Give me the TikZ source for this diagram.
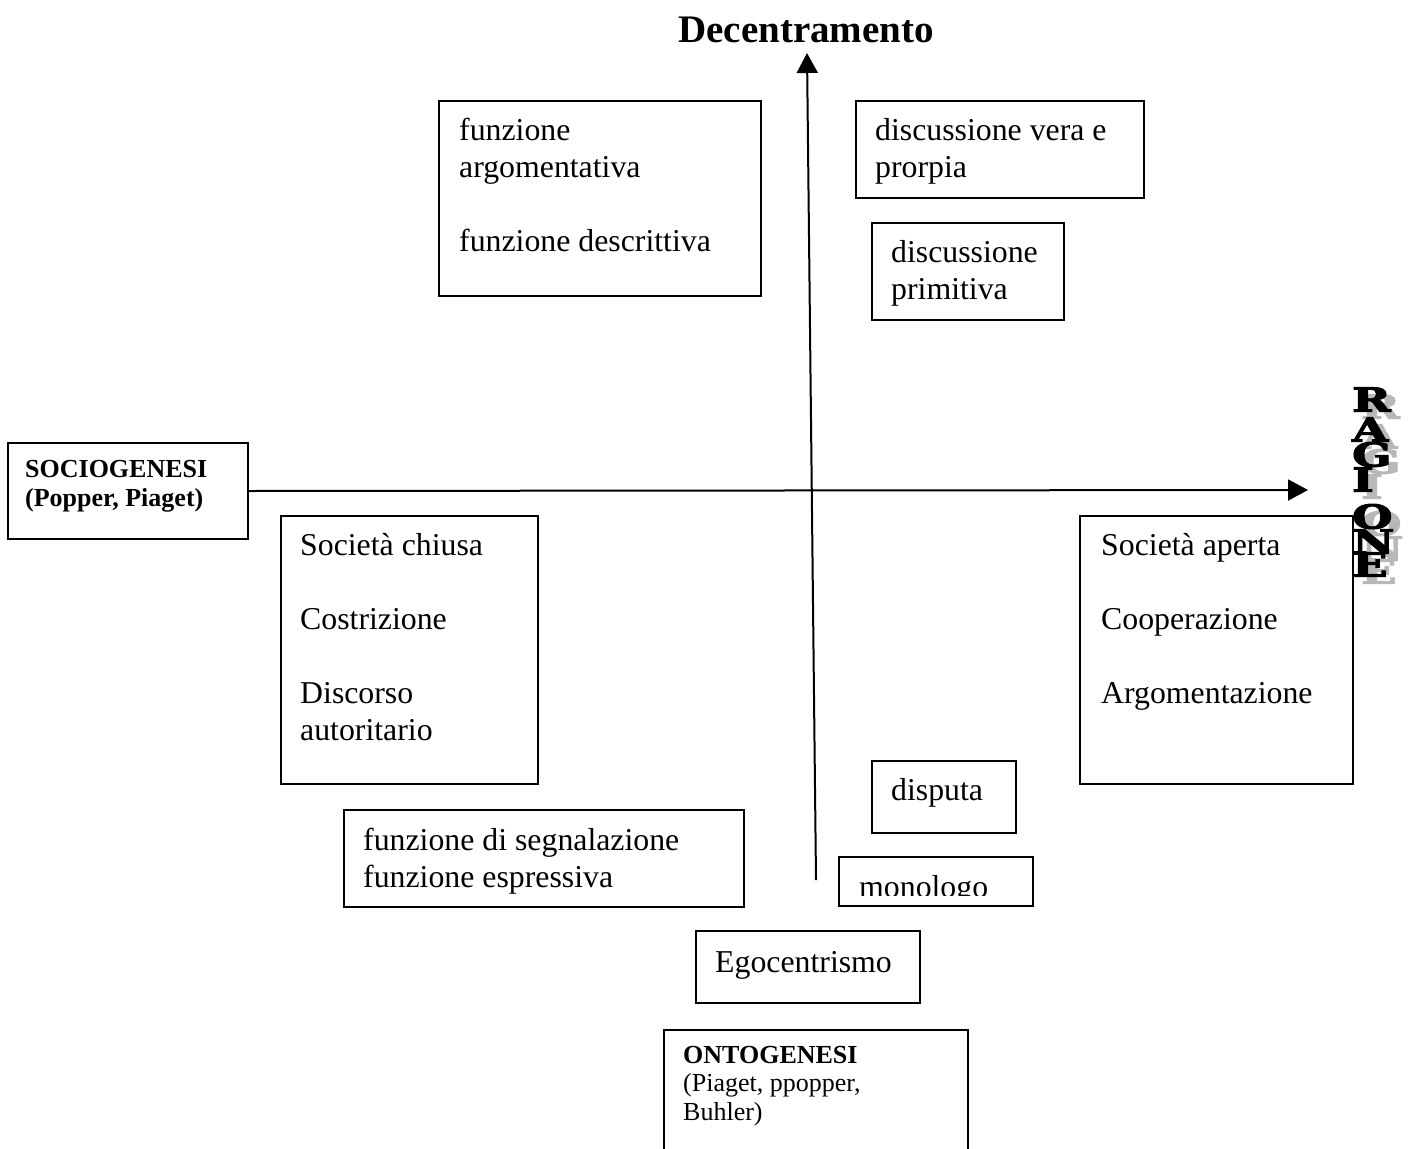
\documentclass[tikz,border=0pt]{standalone}
\usepackage{fontspec}
\setmainfont{Liberation Serif}
\newfontfamily\ragfont{DejaVu Serif}[FakeBold=3]
\usetikzlibrary{arrows.meta}
\tikzset{
  box/.style={draw, line width=2pt, anchor=north west, inner sep=0pt},
  txt/.style={anchor=base west, inner sep=0pt, font=\fontsize{31.8}{37}\selectfont},
  small/.style={anchor=base west, inner sep=0pt, font=\fontsize{26}{30}\selectfont},
  smallb/.style={anchor=base west, inner sep=0pt, font=\fontsize{26}{30}\selectfont\bfseries},
  axis/.style={line width=2pt, -{Triangle[length=20pt,width=21pt]}},
  rag/.style={inner sep=0pt, font=\ragfont\bfseries\fontsize{33}{33}\selectfont},
}
\newcommand{\wl}[1]{\makebox[0pt][l]{\hspace{9pt}\raisebox{-7pt}{\textcolor{black!28}{\scalebox{1.4}[1]{#1}}}}\scalebox{1.4}[1]{#1}}
\begin{document}
\begin{tikzpicture}[x=1pt,y=-1pt]
\useasboundingbox (0,0) rectangle (1410,1148);

% title
\node[anchor=base, inner sep=0pt, font=\fontsize{39}{39}\selectfont\bfseries] (title) at (806,43) {Decentramento};

% boxes
\node[box, minimum width=322pt, minimum height=195pt] (fa) at (438,100) {};
\node[txt] (fa1) at (459,140) {funzione};
\node[txt] (fa2) at (459,177) {argomentativa};
\node[txt] (fa3) at (459,251) {funzione descrittiva};

\node[box, minimum width=288pt, minimum height=97pt] (dv) at (855,100) {};
\node[txt] (dv1) at (875,140) {discussione vera e};
\node[txt] (dv2) at (875,177) {prorpia};

\node[box, minimum width=192pt, minimum height=97pt] (dp) at (871,222) {};
\node[txt] (dp1) at (891,262) {discussione};
\node[txt] (dp2) at (891,299) {primitiva};

\node[box, minimum width=240pt, minimum height=96pt] (socio) at (7,442) {};
\node[smallb] (so1) at (25,477) {SOCIOGENESI};
\node[smallb] (so2) at (25,506) {(Popper, Piaget)};

\node[box, minimum width=257pt, minimum height=268pt] (sc) at (280,515) {};
\node[txt] (sc1) at (300,555) {Società chiusa};
\node[txt] (sc2) at (300,629) {Costrizione};
\node[txt] (sc3) at (300,703) {Discorso};
\node[txt] (sc4) at (300,740) {autoritario};

\node[box, minimum width=273pt, minimum height=268pt] (sa) at (1079,515) {};
\node[txt] (sa1) at (1101,555) {Società aperta};
\node[txt] (sa2) at (1101,629) {Cooperazione};
\node[txt] (sa3) at (1101,703) {Argomentazione};

\node[box, minimum width=144pt, minimum height=72pt] (di) at (871,760) {};
\node[txt] (di1) at (891,800) {disputa};

\node[box, minimum width=400pt, minimum height=97pt] (fs) at (343,809) {};
\node[txt] (fs1) at (363,850) {funzione di segnalazione};
\node[txt] (fs2) at (363,887) {funzione espressiva};

\begin{scope}
\clip (838,856) rectangle (1032,895);
\node[txt] (mo1) at (859,897) {monologo};
\end{scope}
\node[box, minimum width=194pt, minimum height=49pt] (mo) at (838,856) {};

\node[box, minimum width=224pt, minimum height=72pt] (eg) at (695,930) {};
\node[txt] (eg1) at (715,972) {Egocentrismo};

\node[box, minimum width=304pt, minimum height=140pt] (on) at (663,1029) {};
\node[smallb] (on1) at (683,1063) {ONTOGENESI};
\node[small] (on2) at (683,1091) {(Piaget, ppopper,};
\node[small] (on3) at (683,1120) {Buhler)};

% axes
\coordinate (vb) at (816,880);
\coordinate (vt) at (807,53);
\coordinate (he) at (1308,490);
\draw[axis] (vb) -- (vt);
\draw[axis] (socio.east) -- (he);

% RAGIONE vertical word art
\foreach \l/\yy [count=\i] in {R/403,A/433,G/458,I/483,O/520,N/545,E/568}{
  \node[rag, anchor=west] (rg\i) at (1352,\yy) {\wl{\l}};
}
\end{tikzpicture}
\end{document}
